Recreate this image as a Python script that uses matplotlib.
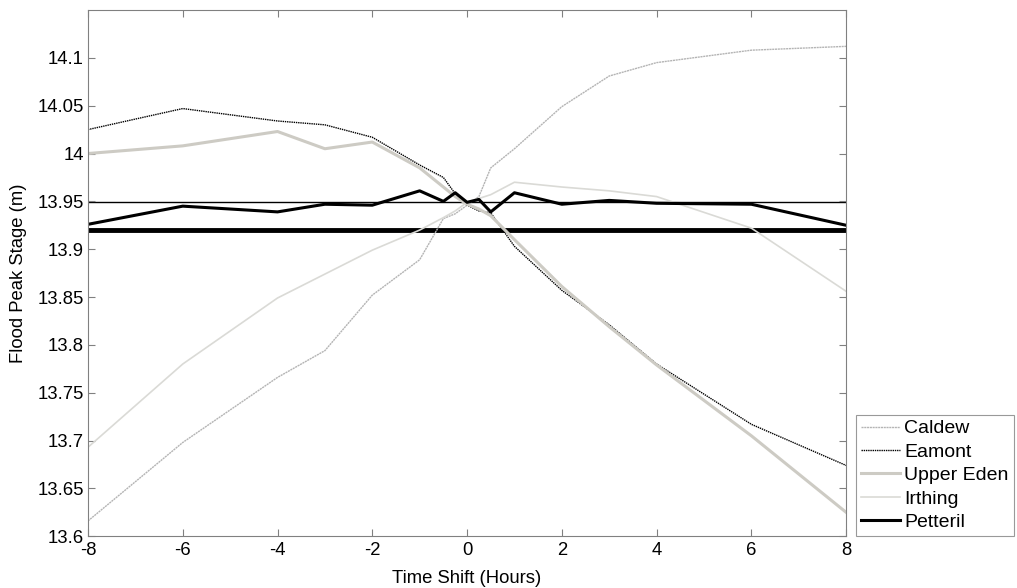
import matplotlib
matplotlib.use("Agg")
import matplotlib.pyplot as plt
from matplotlib.ticker import FuncFormatter

plt.rcParams['font.family'] = ['Liberation Sans', 'DejaVu Sans']
plt.rcParams['axes.unicode_minus'] = False

# time shift (hours)
shift = [-8, -6, -4, -3, -2, -1, -0.5, -0.25, 0, 0.25, 0.5, 1, 2, 3, 4, 6, 8]

caldew = [13.616, 13.698, 13.766, 13.794, 13.852, 13.889, 13.932, 13.937, 13.946,
          13.955, 13.985, 14.005, 14.049, 14.081, 14.095, 14.108, 14.112]
eamont = [14.025, 14.047, 14.034, 14.030, 14.017, 13.988, 13.975, 13.958, 13.946,
          13.940, 13.938, 13.903, 13.857, 13.821, 13.780, 13.717, 13.674]
upper_eden = [14.000, 14.008, 14.023, 14.005, 14.012, 13.985, 13.965, 13.955, 13.947,
              13.942, 13.935, 13.910, 13.861, 13.819, 13.779, 13.705, 13.625]
irthing = [13.693, 13.780, 13.849, 13.874, 13.899, 13.920, 13.933, 13.940, 13.949,
           13.953, 13.957, 13.970, 13.965, 13.961, 13.955, 13.922, 13.856]
petteril = [13.926, 13.945, 13.939, 13.947, 13.946, 13.961, 13.950, 13.959, 13.949,
            13.952, 13.939, 13.959, 13.947, 13.951, 13.948, 13.947, 13.925]

ref_thin = 13.949
ref_thick = 13.920

fig = plt.figure(figsize=(10.17, 5.88), dpi=100)
ax = fig.add_axes([0.0865, 0.088, 0.7455, 0.895])

ax.axhline(ref_thin, color='black', lw=1.0, zorder=1)
ax.axhline(ref_thick, color='black', lw=3.5, zorder=1)

ax.plot(shift, caldew, color='#b4b4b4', lw=1.0, ls=(0, (1.5, 0.5)), label='Caldew')
ax.plot(shift, eamont, color='black', lw=1.0, ls=(0, (1, 0.6)), label='Eamont')
ax.plot(shift, upper_eden, color='#cdcbc4', lw=2.2, label='Upper Eden')
ax.plot(shift, irthing, color='#dadad6', lw=1.2, label='Irthing')
ax.plot(shift, petteril, color='black', lw=2.2, label='Petteril')

ax.set_xlim(-8, 8)
ax.set_ylim(13.6, 14.15)
ax.set_xticks(range(-8, 9, 2))
ax.set_yticks([13.6 + 0.05 * i for i in range(11)])
ax.yaxis.set_major_formatter(FuncFormatter(lambda v, p: '%g' % round(v, 3)))

ax.tick_params(direction='in', top=True, right=True, length=5, color='#808080',
               labelsize=13.3, pad=3)
ax.tick_params(axis='x', pad=4)
for s in ax.spines.values():
    s.set_color('#808080')

ax.set_xlabel('Time Shift (Hours)', fontsize=13.3)
ax.set_ylabel('Flood Peak Stage (m)', fontsize=13.3)
ax.xaxis.set_label_coords(0.5, -0.064)
ax.yaxis.set_label_coords(-0.0805, 0.5)

leg = fig.legend(loc='lower left', bbox_to_anchor=(0.8415, 0.0884), fontsize=14,
                 fancybox=False, edgecolor='#808080', handlelength=2.0,
                 borderaxespad=0, labelspacing=0.3, handletextpad=0.25,
                 borderpad=0.25)
leg.get_frame().set_linewidth(0.8)

fig.savefig('out.png', dpi=100)
